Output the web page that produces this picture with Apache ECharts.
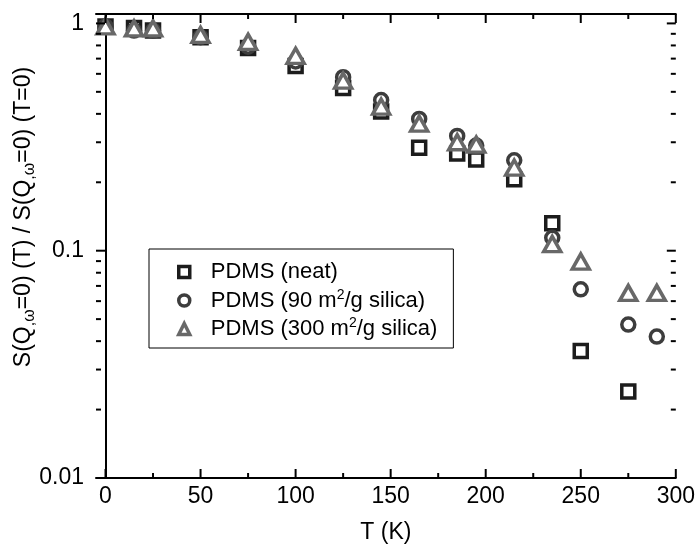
<!DOCTYPE html>
<html>
<head>
<meta charset="utf-8">
<script src="https://cdn.jsdelivr.net/npm/echarts@6/dist/echarts.min.js"></script>
<style>html,body{margin:0;padding:0;background:#fff}#c{width:698px;height:549px}</style>
</head>
<body>
<div id="c"></div>
<script>
// ---- data ----
const neatT = [0, 15, 25, 50, 75, 100, 125, 145, 165, 185, 195, 215, 235, 250, 275];
const neatS = [0.97, 0.955, 0.93, 0.87, 0.78, 0.65, 0.52, 0.41, 0.284, 0.268, 0.252, 0.206, 0.132, 0.0362, 0.0240];
const s90T = [0, 15, 25, 50, 75, 100, 125, 145, 165, 185, 195, 215, 235, 250, 275, 290];
const s90S = [0.97, 0.93, 0.93, 0.87, 0.79, 0.68, 0.58, 0.46, 0.38, 0.32, 0.29, 0.25, 0.114, 0.0676, 0.0473, 0.0419];
const s300T = [0, 15, 25, 50, 75, 100, 125, 145, 165, 185, 195, 215, 235, 250, 275, 290];
const s300S = [0.97, 0.95, 0.95, 0.89, 0.83, 0.72, 0.56, 0.43, 0.362, 0.30, 0.293, 0.232, 0.107, 0.0896, 0.0652, 0.0652];
const seriesNames = ['PDMS (neat)', 'PDMS (90 m2/g silica)', 'PDMS (300 m2/g silica)'];
const legendLabels = ['PDMS (neat)', 'PDMS (90 m{sup|2}/g silica)', 'PDMS (300 m{sup|2}/g silica)'];
const xTickLabels = [0, 50, 100, 150, 200, 250, 300];
const xMinorTicks = [25, 75, 125, 175, 225, 275];
const yTickLabels = ['0.01', '0.1', '1'];
const yMajorTicks = [0.01, 0.1, 1];
const yMinorTicks = [0.02,0.03,0.04,0.05,0.06,0.07,0.08,0.09,0.2,0.3,0.4,0.5,0.6,0.7,0.8,0.9];

const FONT = 'Liberation Sans, Arial, sans-serif';
const zip = (a, b) => a.map((v, i) => [v, b[i]]);

const chart = echarts.init(document.getElementById('c'), null, {renderer: 'canvas'});

function tickSeries(name, data, kind, len) {
  return {
    type: 'custom', name: name, silent: true, z: 5,
    data: data.map(v => kind === 'x' ? [v, 0.5] : [100, v]),
    renderItem: function (params, api) {
      const cs = params.coordSys;
      const p = api.coord([api.value(0), api.value(1)]);
      const st = {stroke: '#000', lineWidth: 2};
      if (kind === 'x') {
        return {type: 'group', children: [
          {type: 'line', shape: {x1: p[0], y1: cs.y + cs.height, x2: p[0], y2: cs.y + cs.height - len}, style: st},
          {type: 'line', shape: {x1: p[0], y1: cs.y, x2: p[0], y2: cs.y + len}, style: st}
        ]};
      }
      return {type: 'group', children: [
        {type: 'line', shape: {x1: cs.x, y1: p[1], x2: cs.x + len, y2: p[1]}, style: st},
        {type: 'line', shape: {x1: cs.x + cs.width, y1: p[1], x2: cs.x + cs.width - len, y2: p[1]}, style: st}
      ]};
    }
  };
}

const axisLine = {show: true, lineStyle: {color: '#000', width: 2}};

chart.setOption({
  animation: false,
  backgroundColor: '#fff',
  grid: {left: 96, right: 20, top: 14, bottom: 67, containLabel: false},
  xAxis: [{
    type: 'value', min: -5, max: 300, position: 'bottom',
    axisLine: axisLine, axisTick: {show: false}, splitLine: {show: false},
    axisLabel: {customValues: xTickLabels, color: '#000', fontSize: 23, fontFamily: FONT, margin: 7},
    name: 'T (K)', nameLocation: 'middle', nameGap: 43,
    nameTextStyle: {color: '#000', fontSize: 23, fontFamily: FONT}
  }, {
    type: 'value', min: -5, max: 300, position: 'top',
    axisLine: axisLine, axisTick: {show: false}, splitLine: {show: false}, axisLabel: {show: false}
  }],
  yAxis: [{
    type: 'log', logBase: 10, min: 0.01, max: 1.1, position: 'left',
    axisLine: axisLine, axisTick: {show: false}, splitLine: {show: false}, minorTick: {show: false},
    axisLabel: {
      color: '#000', fontSize: 23, fontFamily: FONT, margin: 12,
      formatter: function (v) {
        for (let i = 0; i < yMajorTicks.length; i++) {
          if (Math.abs(v - yMajorTicks[i]) / yMajorTicks[i] < 1e-6) return yTickLabels[i];
        }
        return '';
      }
    }
  }, {
    type: 'log', logBase: 10, min: 0.01, max: 1.1, position: 'right',
    axisLine: axisLine, axisTick: {show: false}, splitLine: {show: false}, axisLabel: {show: false}
  }],
  legend: {
    orient: 'vertical', left: 149, top: 249,
    data: seriesNames,
    borderColor: '#000', borderWidth: 1, borderRadius: 0,
    padding: [12, 16, 8, 28], itemGap: 5,
    itemWidth: 11, itemHeight: 11,
    itemStyle: {borderWidth: 3.5},
    selectedMode: false,
    formatter: function (name) { return legendLabels[seriesNames.indexOf(name)]; },
    textStyle: {color: '#000', fontSize: 22, fontFamily: FONT, padding: [0, 0, 0, 16],
      rich: {sup: {fontSize: 14, fontFamily: FONT, color: '#000', padding: [0, 0, 11, 0]}}}
  },
  graphic: [{
    type: 'text', x: 24, y: 217, rotation: Math.PI / 2,
    style: {
      text: 'S(Q{s|,ω}=0) (T) / S(Q{s|,ω}=0) (T=0)',
      font: '23px ' + FONT, fill: '#000',
      textAlign: 'center', textVerticalAlign: 'middle', align: 'center', verticalAlign: 'middle',
      rich: {s: {fontSize: 16, fontFamily: FONT, fill: '#000', padding: [11, 0, 0, 0]}}
    }
  }],
  series: [
    {
      name: seriesNames[0], type: 'scatter', data: zip(neatT, neatS), z: 2,
      symbol: 'rect', symbolSize: 13,
      itemStyle: {color: '#fff', borderColor: '#1c1c1c', borderWidth: 3.5, opacity: 1}
    },
    {
      name: seriesNames[1], type: 'scatter', data: zip(s90T, s90S), z: 3,
      symbol: 'circle', symbolSize: 13,
      itemStyle: {color: '#fff', borderColor: '#3d3d3d', borderWidth: 3.5, opacity: 1}
    },
    {
      name: seriesNames[2], type: 'scatter', data: zip(s300T, s300S), z: 4,
      symbol: 'triangle', symbolSize: [17, 15],
      itemStyle: {color: '#fff', borderColor: '#686868', borderWidth: 3.5, opacity: 1}
    },
    tickSeries('xmaj', xTickLabels, 'x', 9),
    tickSeries('xmin', xMinorTicks, 'x', 5),
    tickSeries('ymaj', yMajorTicks, 'y', 9),
    tickSeries('ymin', yMinorTicks, 'y', 5)
  ]
});
</script>
</body>
</html>
